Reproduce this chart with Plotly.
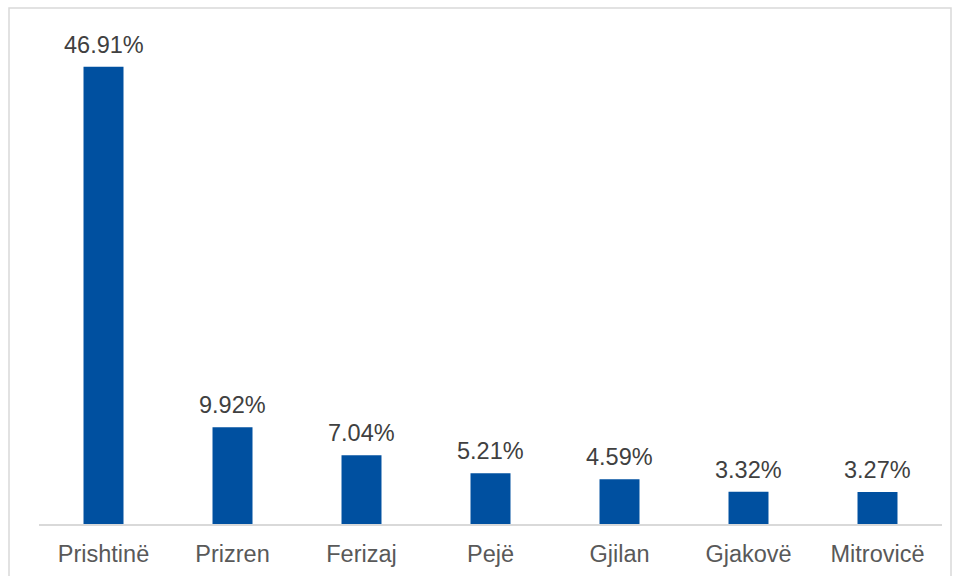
import plotly.graph_objects as go

# Participação por região (%)
regioes = ["Prishtinë", "Prizren", "Ferizaj", "Pejë", "Gjilan", "Gjakovë", "Mitrovicë"]
valores = [46.91, 9.92, 7.04, 5.21, 4.59, 3.32, 3.27]

LARGURA, ALTURA = 957, 576
MARGEM = dict(l=39, r=15, t=20, b=52)
AZUL = "#0050A0"
CINZA_TEXTO = "#404040"
CINZA_EIXO = "#595959"
CINZA_LINHA = "#D9D9D9"
TAM_FONTE = 23.5

fig = go.Figure(
    go.Bar(
        x=regioes,
        y=valores,
        marker=dict(color=AZUL, line=dict(width=0)),
        width=0.31,
        hoverinfo="x+y",
    )
)

# rótulos de valor acima de cada barra
for r, v in zip(regioes, valores):
    fig.add_annotation(
        x=r, y=v, text=f"{v:.2f}%", showarrow=False,
        yanchor="bottom", yshift=7,
        font=dict(size=TAM_FONTE, color=CINZA_TEXTO),
    )

# moldura cinza em volta do gráfico (em pixels convertidos para paper)
largura_plot = LARGURA - MARGEM["l"] - MARGEM["r"]
altura_plot = ALTURA - MARGEM["t"] - MARGEM["b"]
px_x = lambda p: (p - MARGEM["l"]) / largura_plot
px_y = lambda p: (ALTURA - MARGEM["b"] - p) / altura_plot
fig.add_shape(
    type="rect", xref="paper", yref="paper",
    x0=px_x(9), x1=px_x(951), y0=px_y(590), y1=px_y(8),
    line=dict(color=CINZA_LINHA, width=1.5), layer="below",
)

fig.update_layout(
    width=LARGURA,
    height=ALTURA,
    margin=MARGEM,
    paper_bgcolor="white",
    plot_bgcolor="white",
    showlegend=False,
    font=dict(family="Liberation Sans, Arial, sans-serif", color=CINZA_EIXO),
    xaxis=dict(
        showline=True, linecolor=CINZA_LINHA, linewidth=2,
        ticks="", tickfont=dict(size=TAM_FONTE, color=CINZA_EIXO),
        ticklabelstandoff=8, automargin=False,
    ),
    yaxis=dict(
        range=[0, 51.7], visible=False, showgrid=False, zeroline=False,
        automargin=False,
    ),
)

# a página tem margem de 8px no body; zera para o gráfico ficar em (0,0)
fig.write_html(
    "out.html",
    config={"displayModeBar": False},
    post_script="document.body.style.margin='0';",
)
